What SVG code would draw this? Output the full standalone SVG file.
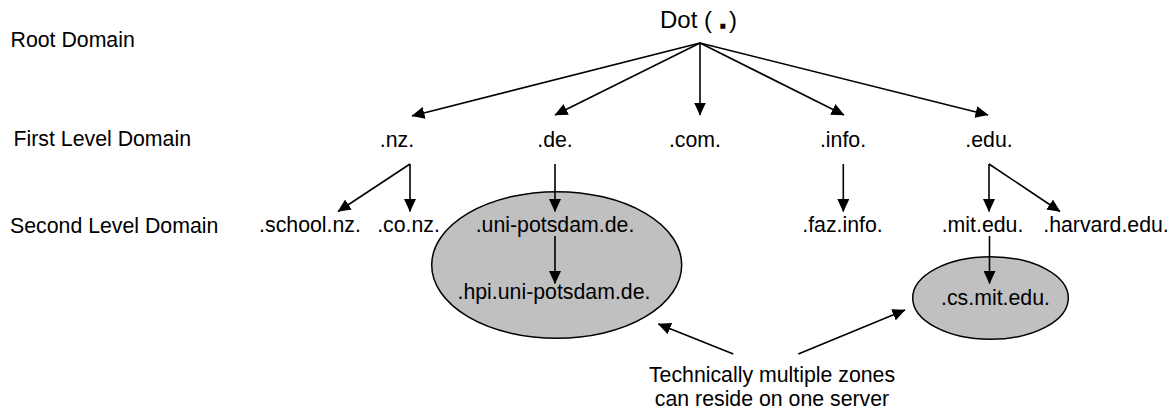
<svg xmlns="http://www.w3.org/2000/svg" width="1172" height="412" viewBox="0 0 1172 412">
<style>
  text { font-family: "Liberation Sans", Arial, sans-serif; font-size: 21.3px; fill: #000; }
  .c { text-anchor: middle; }
  .edge { stroke: #000; stroke-width: 1.6; fill: none; marker-end: url(#arr); }
  .zone { fill: #c0c0c0; stroke: #000; stroke-width: 1.5; }
</style>
<defs>
  <marker id="arr" markerUnits="userSpaceOnUse" markerWidth="13" markerHeight="12" refX="12.5" refY="6" orient="auto" viewBox="0 0 13 12">
    <path d="M0,0 L13,6 L0,12 z" fill="#000"/>
  </marker>
</defs>
<rect width="1172" height="412" fill="#fff"/>

<g id="levels">
  <text x="10.5" y="47">Root Domain</text>
  <text x="13.5" y="146">First Level Domain</text>
  <text x="10" y="232.5">Second Level Domain</text>
</g>

<g id="zone-de"><ellipse class="zone" cx="556.7" cy="265" rx="125" ry="73.3"/></g>
<g id="zone-mit"><ellipse class="zone" cx="990.5" cy="298" rx="77.8" ry="41.3"/></g>

<g id="connectors">
  <line class="edge" x1="700" y1="43" x2="412" y2="116"/>
  <line class="edge" x1="700" y1="43" x2="555" y2="115"/>
  <line class="edge" x1="700" y1="43" x2="700" y2="115"/>
  <line class="edge" x1="700" y1="43" x2="844" y2="115"/>
  <line class="edge" x1="700" y1="43" x2="988" y2="115"/>
  <line class="edge" x1="410" y1="164" x2="338" y2="211.5"/>
  <line class="edge" x1="410" y1="164" x2="410" y2="211.5"/>
  <line class="edge" x1="555" y1="164" x2="555" y2="211.5"/>
  <line class="edge" x1="555" y1="236" x2="555" y2="283.5"/>
  <line class="edge" x1="843.3" y1="164" x2="843.3" y2="211.5"/>
  <line class="edge" x1="989" y1="164" x2="989" y2="211.5"/>
  <line class="edge" x1="989" y1="164" x2="1060" y2="211.5"/>
  <line class="edge" x1="989.5" y1="236" x2="989.5" y2="283.5"/>
  <line class="edge" x1="733.3" y1="354" x2="658.3" y2="324"/>
  <line class="edge" x1="798.3" y1="354" x2="905" y2="310"/>
</g>

<g id="root"><text x="660" y="28.3" style="font-size:24px">Dot (<tspan x="719.5" style="font-weight:bold;stroke:#000;stroke-width:1.5">.</tspan><tspan x="729">)</tspan></text></g>

<g id="nz"><text class="c" x="397" y="146.5">.nz.</text></g>
<g id="de"><text class="c" x="555" y="146.5">.de.</text></g>
<g id="com"><text class="c" x="695" y="146.5">.com.</text></g>
<g id="info"><text class="c" x="843" y="146.5">.info.</text></g>
<g id="edu"><text class="c" x="989" y="146.5">.edu.</text></g>

<g id="school-nz"><text class="c" x="310" y="232">.school.nz.</text></g>
<g id="co-nz"><text class="c" x="408.5" y="232">.co.nz.</text></g>
<g id="uni-potsdam"><text class="c" x="555" y="232">.uni-potsdam.de.</text></g>
<g id="hpi"><text class="c" x="554" y="298.5">.hpi.uni-potsdam.de.</text></g>
<g id="faz-info"><text class="c" x="842.5" y="232">.faz.info.</text></g>
<g id="mit-edu"><text class="c" x="982.5" y="232">.mit.edu.</text></g>
<g id="harvard-edu"><text class="c" x="1106" y="232">.harvard.edu.</text></g>
<g id="cs-mit"><text class="c" x="995.5" y="305">.cs.mit.edu.</text></g>

<g id="note">
  <text class="c" x="772" y="381.7">Technically multiple zones</text>
  <text class="c" x="772" y="406">can reside on one server</text>
</g>
</svg>
